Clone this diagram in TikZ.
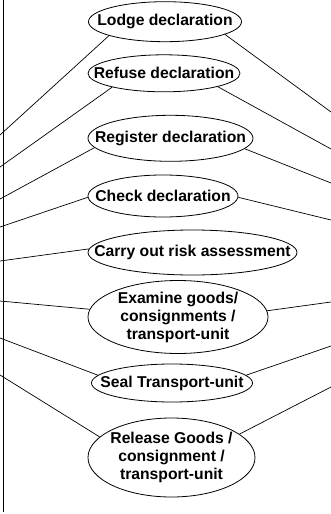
\documentclass[tikz,border=0pt]{standalone}
\usepackage{fontspec}
\setmainfont{Liberation Sans}
\usetikzlibrary{shapes.geometric}

\begin{document}
\begin{tikzpicture}[
  x=1pt, y=-1pt,
  every node/.style={font=\fontsize{15.7}{18}\selectfont\bfseries},
  usecase/.style={draw, ellipse, line width=0.8pt, align=center,
                  inner xsep=-30pt, inner ysep=-2pt},
  assoc/.style={line width=0.7pt, draw=black},
  boundary/.style={line width=0.9pt}
]
\useasboundingbox (0,0) rectangle (331,514);
% system boundary, only its left side is inside the picture
\draw[boundary] (3.5,0) -- (3.5,511.5);

\node[usecase, minimum width=153pt, minimum height=40pt] (lodge) at (165,21.7) {Lodge declaration};
\node[usecase, minimum width=152pt, minimum height=37pt] (refuse) at (164,73.3) {Refuse declaration};
\node[usecase, minimum width=165pt, minimum height=46pt] (register) at (170.5,138.3) {Register declaration};
\node[usecase, minimum width=150pt, minimum height=42pt] (check) at (163,196) {Check declaration};
\node[usecase, minimum width=209pt, minimum height=45pt] (risk) at (192.5,252.5) {Carry out risk assessment};
\node[usecase, minimum width=180pt, minimum height=73pt] (examine) at (178,317) {Examine goods/\\consignments /\\transport-unit};
\node[usecase, minimum width=161pt, minimum height=38pt] (seal) at (172,383) {Seal Transport-unit};
\node[usecase, minimum width=167pt, minimum height=79pt] (release) at (171.5,457.5) {Release Goods /\\ consignment /\\transport-unit};

% actors sit outside the picture, left and right
\coordinate (lodge-l) at (0,135);
\coordinate (refuse-l) at (0,167);
\coordinate (register-l) at (0,199);
\coordinate (check-l) at (0,227);
\coordinate (risk-l) at (0,261);
\coordinate (examine-l) at (0,301);
\coordinate (seal-l) at (0,338);
\coordinate (release-l) at (0,375);

\coordinate (lodge-r) at (331,112);
\coordinate (refuse-r) at (331,149);
\coordinate (register-r) at (331,183);
\coordinate (check-r) at (331,220);
\coordinate (examine-r) at (331,302);
\coordinate (seal-r) at (331,346);
\coordinate (release-r) at (331,387);

\draw[assoc] (lodge.194) -- (lodge-l);
\draw[assoc] (refuse.195) -- (refuse-l);
\draw[assoc] (register.187) -- (register-l);
\draw[assoc] (check.181) -- (check-l);
\draw[assoc] (risk.178) -- (risk-l);
\draw[assoc] (examine.175) -- (examine-l);
\draw[assoc] (seal.174) -- (seal-l);
\draw[assoc] (release.164) -- (release-l);

\draw[assoc] (lodge.348) -- (lodge-r);
\draw[assoc] (refuse.346) -- (refuse-r);
\draw[assoc] (register.352) -- (register-r);
\draw[assoc] (check.359) -- (check-r);
\draw[assoc] (examine.4) -- (examine-r);
\draw[assoc] (seal.6) -- (seal-r);
\draw[assoc] (release.19) -- (release-r);
\end{tikzpicture}
\end{document}
